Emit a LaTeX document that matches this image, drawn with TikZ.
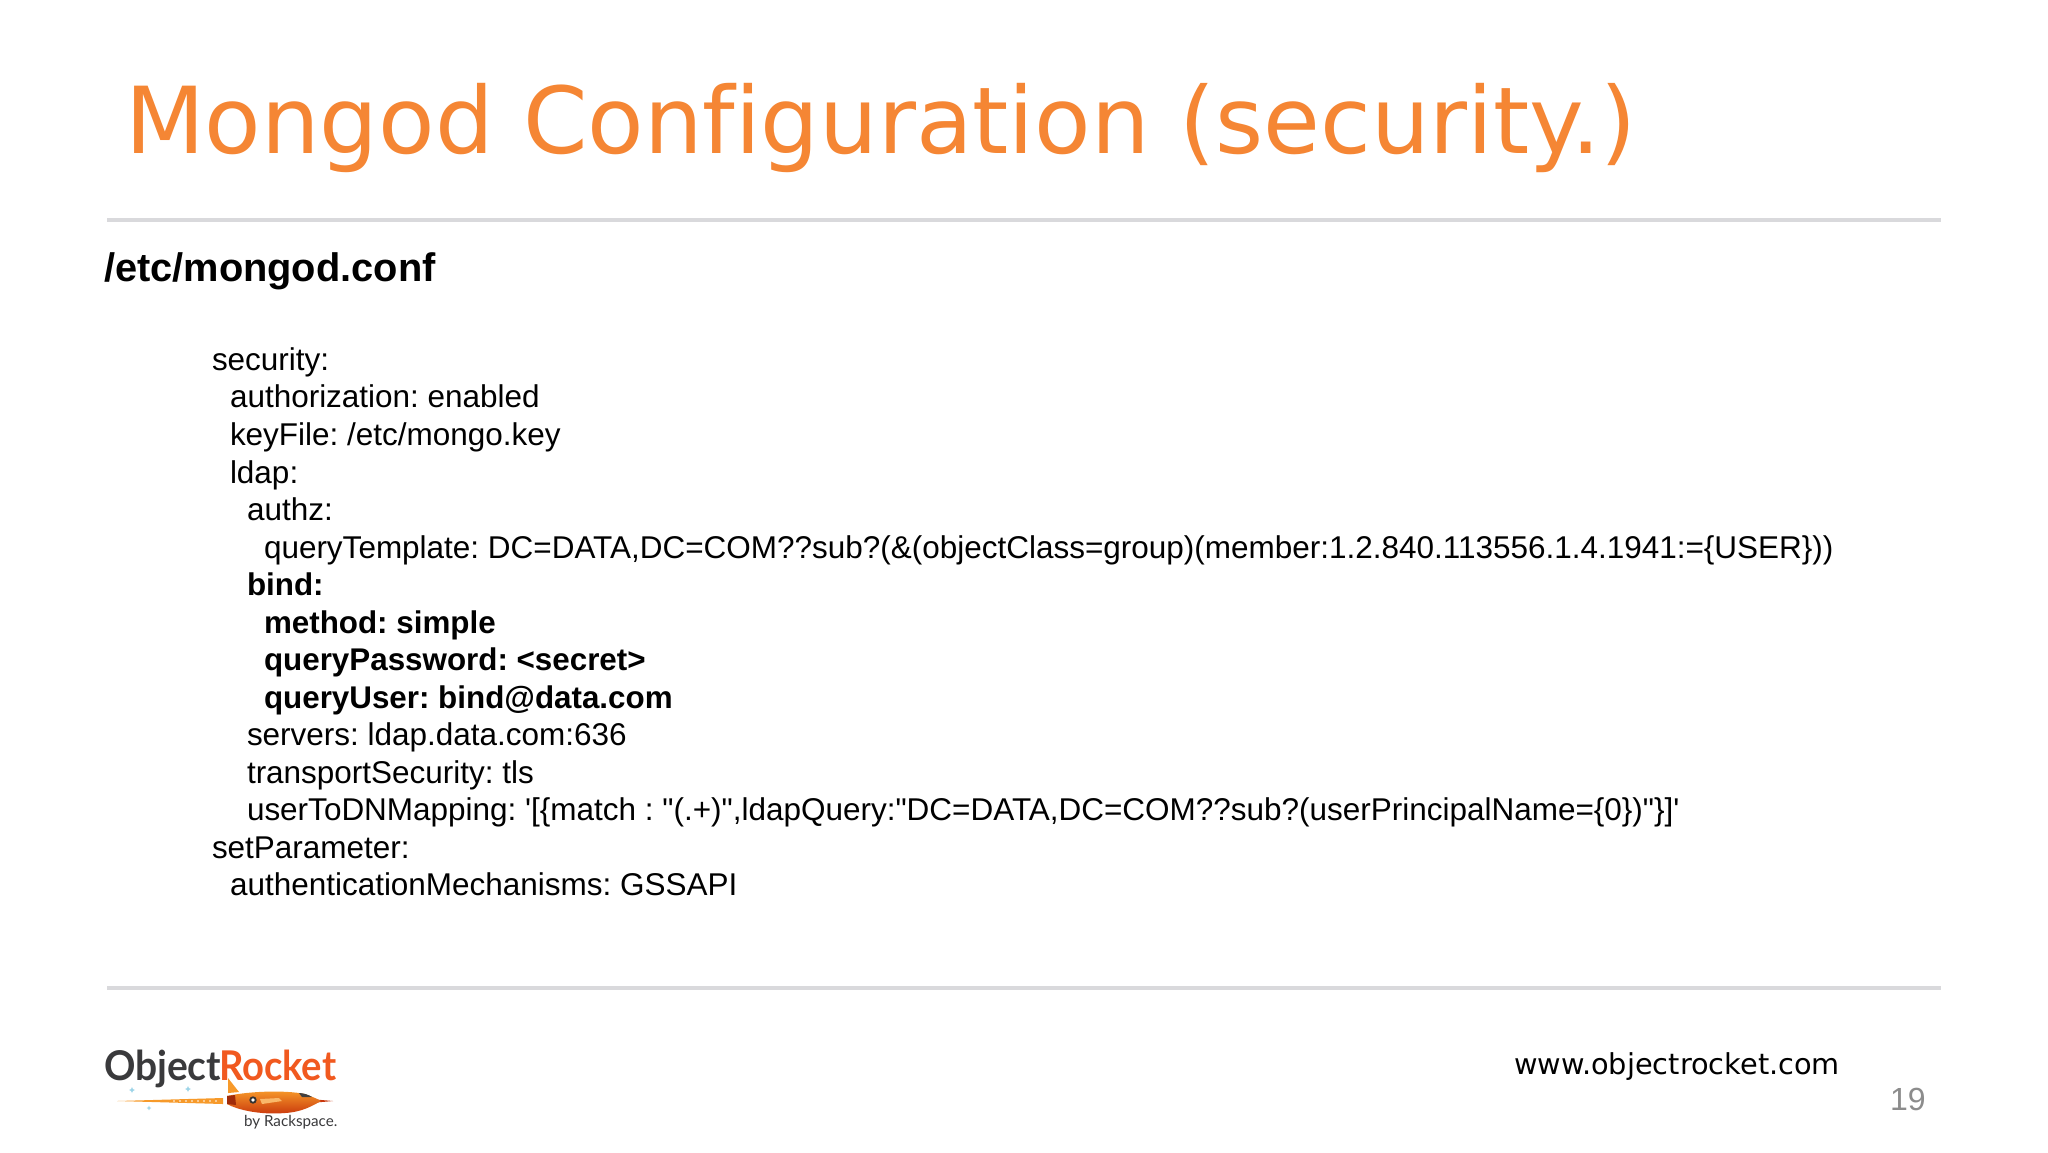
\documentclass[tikz,border=0pt]{standalone}
\usepackage{fontspec}
\newfontfamily\bodyfont{Liberation Sans}
\newfontfamily\titlefont[Ligatures=NoCommon]{DejaVu Sans}
\newfontfamily\logofont{Lato}
\usetikzlibrary{shadings}
\definecolor{titleorange}{HTML}{F58634}
\definecolor{rulegrey}{HTML}{D9D9DC}
\definecolor{pagenum}{HTML}{8C8C8C}
\definecolor{logodark}{HTML}{3A3A3C}
\definecolor{logoorange}{HTML}{F1591F}
\definecolor{rocketlight}{HTML}{F79A2A}
\definecolor{rocketdark}{HTML}{C8360C}
\definecolor{starblue}{HTML}{9CD4E8}
\tikzset{
  txt/.style={inner sep=0pt,outer sep=0pt,anchor=base west},
  body/.style={txt,font=\bodyfont\frenchspacing\fontsize{15.74}{19}\selectfont,text=black},
  bodyb/.style={body,font=\bodyfont\frenchspacing\fontsize{15.68}{19}\selectfont\bfseries},
  slideRule/.style={draw=rulegrey,line width=2pt},
  star/.style={fill=starblue,draw=none}
}
\begin{document}
\begin{tikzpicture}[x=0.5pt,y=-0.5pt]
\useasboundingbox (0,0) rectangle (2048,1152);
\fill[white] (0,0) rectangle (2048,1152);
\node[txt,text=titleorange,font=\titlefont\fontsize{46.2}{56}\selectfont] (title) at (125,153) {Mongod Configuration (security.)};
\coordinate (r1a) at (107,220); \coordinate (r1b) at (1941,220);
\coordinate (r2a) at (107,988); \coordinate (r2b) at (1941,988);
\draw[slideRule] (r1a) -- (r1b);
\draw[slideRule] (r2a) -- (r2b);
\node[txt,font=\bodyfont\frenchspacing\fontsize{19.9}{24}\selectfont\bfseries] (file) at (104,281) {/etc/mongod.conf};
\node[body]  (l1)  at (212,370) {security:};
\node[body]  (l2)  at (230,407.5) {authorization: enabled};
\node[body]  (l3)  at (230,445) {keyFile: /etc/mongo.key};
\node[body]  (l4)  at (230,483) {ldap:};
\node[body]  (l5)  at (247,520) {authz:};
\node[body]  (l6)  at (264,558) {queryTemplate: DC=DATA,DC=COM??sub?(\&(objectClass=group)(member:1.2.840.113556.1.4.1941:=\{USER\}))};
\node[bodyb] (l7)  at (247,595.5) {bind:};
\node[bodyb] (l8)  at (264,633) {method: simple};
\node[bodyb] (l9)  at (264,670.5) {queryPassword: <secret>};
\node[bodyb] (l10) at (264,708) {queryUser: bind@data.com};
\node[body]  (l11) at (247,745.5) {servers: ldap.data.com:636};
\node[body]  (l12) at (247,783) {transportSecurity: tls};
\node[body]  (l13) at (247,820.5) {userToDNMapping: '[\{match : "(.+)",ldapQuery:"DC=DATA,DC=COM??sub?(userPrincipalName=\{0\})"\}]'};
\node[body]  (l14) at (212,858) {setParameter:};
\node[body]  (l15) at (230,895.5) {authenticationMechanisms: GSSAPI};
\node[txt,font=\titlefont\fontsize{14.4}{17}\selectfont] (url) at (1514,1074) {www.objectrocket.com};
\node[txt,text=pagenum,font=\bodyfont\fontsize{16}{19}\selectfont] (page) at (1890,1110) {19};
% logo
\node[txt,text=logodark,font=\logofont\bfseries\fontsize{20.5}{24}\selectfont] (lg1) at (104,1080) {\scalebox{0.95}[1]{Object}};
\node[txt,text=logoorange,font=\logofont\bfseries\fontsize{20.5}{24}\selectfont] (lg2) at (219,1080) {\scalebox{0.93}[1]{Rocket}};
\node[txt,text=logodark,font=\logofont\fontsize{7.6}{9}\selectfont] (lg3) at (244,1126) {by Rackspace.};
% trail
\fill[rocketlight] (117,1101) -- (170,1099.5) -- (223,1098) -- (223,1104) -- (170,1102.5) -- cycle;
\foreach \x in {174,180,...,220}{\fill[white] (\x,1101) circle (0.9);}
% fin
\fill[rocketlight] (228,1093) -- (228,1078) -- (239,1092) -- cycle;
% needle
\fill[rocketdark] (316,1099.5) -- (333,1101) -- (316,1102.5) -- cycle;
% body
\shade[top color=rocketlight,bottom color=rocketdark,middle color=rocketlight!50!rocketdark]
  (227,1096) .. controls (250,1091) and (285,1090) .. (305,1094)
  .. controls (310,1096) and (316,1098) .. (321,1101)
  .. controls (312,1106) and (302,1112) .. (285,1113)
  .. controls (260,1115) and (238,1110) .. (227,1104) -- cycle;
% tail shadow
\fill[rocketdark!80!black] (227,1096) -- (235,1095) -- (236,1105) -- (227,1104) -- cycle;
% canopy
\fill[black!75] (299,1093) .. controls (304,1093) and (309,1095) .. (312,1097) -- (302,1097) -- cycle;
% wing
\fill[rocketlight!70!white] (260,1099) -- (279,1098) -- (282,1101) -- (262,1104) -- cycle;
% roundel
\fill[black!80] (253,1100) circle (3.7);
\fill[white] (253,1100) circle (1.8);
% stars
\foreach \sx/\sy/\sr in {132/1090/3,188/1089/3,149/1108/2.4}{
  \fill[star] (\sx,\sy-\sr) -- (\sx+0.3*\sr,\sy-0.3*\sr) -- (\sx+\sr,\sy) -- (\sx+0.3*\sr,\sy+0.3*\sr) -- (\sx,\sy+\sr) -- (\sx-0.3*\sr,\sy+0.3*\sr) -- (\sx-\sr,\sy) -- (\sx-0.3*\sr,\sy-0.3*\sr) -- cycle;
}
\end{tikzpicture}
\end{document}
